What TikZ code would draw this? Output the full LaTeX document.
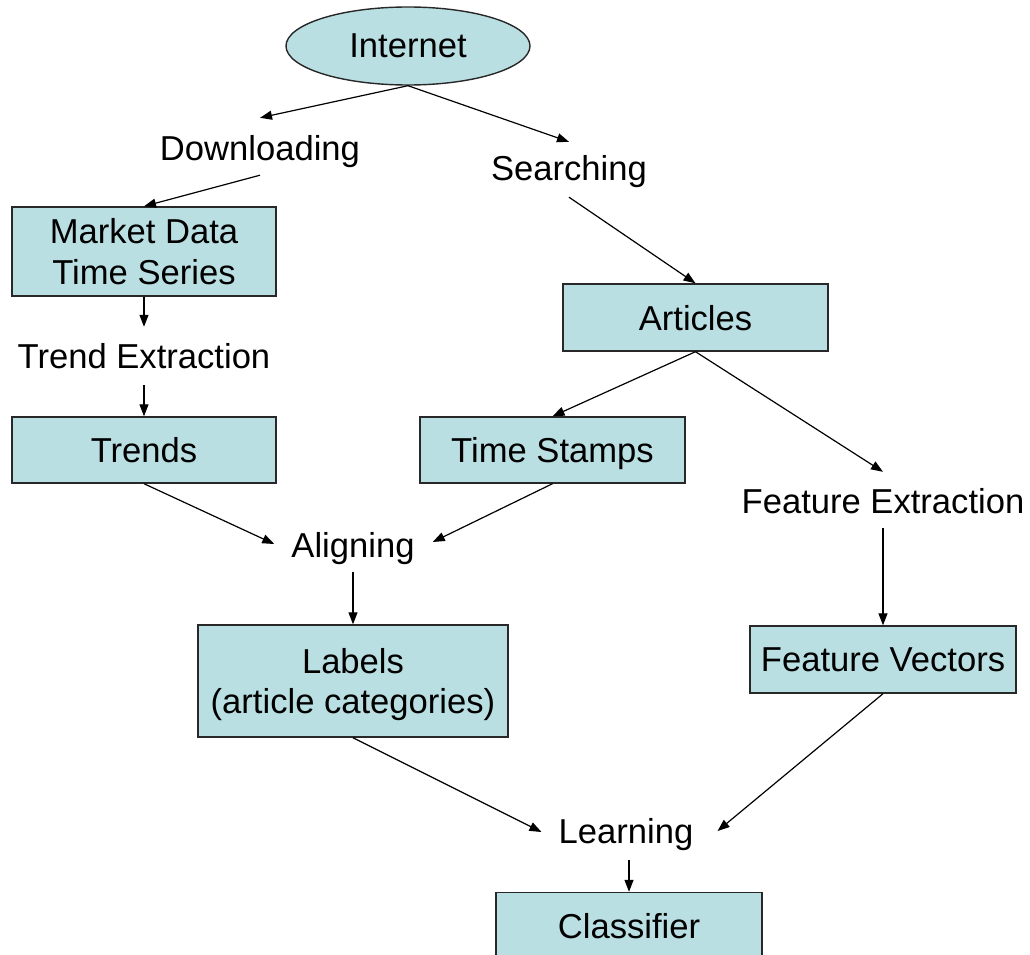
\documentclass[tikz,border=0pt]{standalone}
\usepackage{fontspec}
\setmainfont{Liberation Sans}
\usetikzlibrary{arrows.meta,shapes.geometric}
\definecolor{boxfill}{RGB}{185,223,226}
\definecolor{edgecol}{RGB}{40,40,40}
\begin{document}
\begin{tikzpicture}[x=1pt,y=-1pt,
  every node/.style={font=\fontsize{34.6pt}{40.5pt}\selectfont},
  box/.style={draw=edgecol, line width=1.4pt, fill=boxfill, align=center, inner sep=0pt, text depth=0pt},
  lbl/.style={inner sep=0pt, text height=25pt, text depth=7pt, anchor=base},
  arr/.style={draw=black, line width=1.2pt, -{Triangle[length=12pt,width=9pt]}}]
\useasboundingbox[fill=white] (0,0) rectangle (1030,955);
\node[box, ellipse, minimum width=244pt, minimum height=78pt] (internet) at (408,46) {Internet};
\node[lbl] (down) at (260,160) {Downloading};
\node[lbl] (search) at (569,180) {Searching};
\node[box, minimum width=264pt, minimum height=89pt] (market) at (144,251.5) {Market Data\\Time Series};
\node[lbl] (trend) at (144,368) {Trend Extraction};
\node[box, minimum width=264pt, minimum height=66pt] (trends) at (144,450) {Trends};
\node[box, minimum width=265pt, minimum height=67pt] (articles) at (695.5,317.5) {Articles};
\node[box, minimum width=265pt, minimum height=66pt] (stamps) at (552.5,450) {Time Stamps};
\node[lbl] (fext) at (883,513) {Feature Extraction};
\node[box, minimum width=266pt, minimum height=67pt] (fvec) at (883,659.5) {Feature Vectors};
\node[lbl] (align) at (353,557) {Aligning};
\node[box, minimum width=310pt, minimum height=112pt] (labels) at (353,681) {Labels\\(article categories)};
\node[lbl] (learn) at (626,843) {Learning};
\node[box, minimum width=266pt, minimum height=67pt] (classifier) at (629,926) {Classifier};

\draw[arr] (internet.south) -- ([yshift=17pt]down.north);
\draw[arr] ([yshift=-8pt]down.south) -- (market.north);
\draw[arr] (internet.south) -- ([yshift=13pt]search.north);
\draw[arr] ([yshift=-10pt]search.south) -- (articles.north);
\draw[arr] (market.south) -- ([yshift=16pt]trend.north);
\draw[arr] ([yshift=-10pt]trend.south) -- (trends.north);
\draw[arr] (articles.south) -- (stamps.north);
\draw[arr] (articles.south) -- ([yshift=16pt]fext.north);
\draw[arr] ([yshift=-8pt]fext.south) -- (fvec.north);
\draw[arr] (trends.south) -- ([xshift=-17pt,yshift=4pt]align.west);
\draw[arr] (stamps.south) -- ([xshift=18pt,yshift=6pt]align.east);
\draw[arr] ([yshift=-8pt]align.south) -- (labels.north);
\draw[arr] (labels.south) -- ([xshift=-17pt,yshift=2pt]learn.west);
\draw[arr] (fvec.south) -- ([xshift=24pt,yshift=3pt]learn.east);
\draw[arr] ([yshift=-10pt]learn.south -| classifier.north) -- (classifier.north);
\end{tikzpicture}
\end{document}
